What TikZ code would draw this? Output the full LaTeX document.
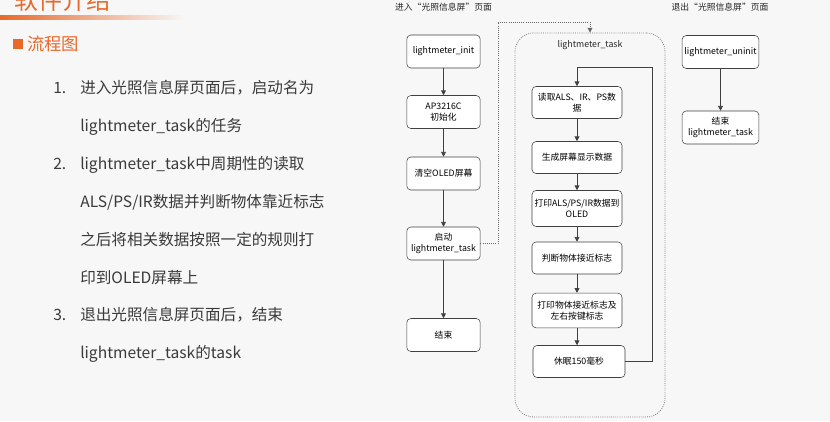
\documentclass[tikz,border=0pt]{standalone}
\usepackage{fontspec}
\setmainfont{Noto Sans CJK SC}
\usepackage{xcolor}
\usetikzlibrary{arrows.meta,positioning}
\definecolor{slideorange}{HTML}{E8692A}
\definecolor{slidetext}{HTML}{3A3A3A}
\definecolor{slidebg}{HTML}{F7F7F7}
\tikzset{
  flowbox/.style   = {rectangle, rounded corners=3pt, draw=black!75, fill=white,
                      align=center, font=\fontsize{6.6}{8}\selectfont, inner sep=1pt,
                      minimum width=55pt, minimum height=24.75pt},
  flowwide/.style  = {flowbox, minimum width=67.5pt, minimum height=24pt},
  taskbox/.style   = {rectangle, rounded corners=14pt, draw=black!55, densely dotted,
                      line width=0.6pt, inner sep=0pt},
  flowflow/.style  = {-{Triangle[length=3.6pt,width=3.6pt]}, draw=black!75, line width=0.6pt},
  flowlink/.style  = {-{Triangle[length=3.6pt,width=3.6pt]}, draw=black!60, densely dotted, line width=0.6pt},
  flowcap/.style   = {font=\fontsize{6.6}{8}\selectfont, text=black!85, inner sep=1pt},
  listline/.style  = {anchor=base west, font=\fontsize{11.7}{14}\selectfont, text=slidetext, inner sep=0pt},
}

\begin{document}
\begin{tikzpicture}[x=0.75pt, y=-0.75pt]
  \fill[slidebg] (0,0) rectangle (830,421);
  \useasboundingbox (0,0) rectangle (830,421);
  \clip (0,0) rectangle (830,421);

  % slide heading
  \node[anchor=base west, text=slideorange, font=\fontsize{18}{20}\selectfont, inner sep=0pt] (title) at (14,9) {软件介绍};
  \shade[left color=slideorange, right color=slidebg] (0,15) rectangle (185,19);
  \node[fill=slideorange, minimum size=7pt, inner sep=0pt] (bullet) at (18,44) {};
  \node[anchor=west, text=slideorange, font=\fontsize{13}{15}\selectfont, inner sep=0pt] (head) at (27,44) {流程图};

  % numbered text
  \node[listline] (n1) at (53,93)  {1.};
  \node[listline] (l1) at (80,93)  {进入光照信息屏页面后，启动名为};
  \node[listline] (l2) at (80,131) {lightmeter\_task的任务};
  \node[listline] (n2) at (53,169) {2.};
  \node[listline] (l3) at (80,169) {lightmeter\_task中周期性的读取};
  \node[listline] (l4) at (80,207) {ALS/PS/IR数据并判断物体靠近标志};
  \node[listline] (l5) at (80,245) {之后将相关数据按照一定的规则打};
  \node[listline] (l6) at (80,283) {印到OLED屏幕上};
  \node[listline] (n3) at (53,320) {3.};
  \node[listline] (l7) at (80,320) {退出光照信息屏页面后，结束};
  \node[listline] (l8) at (80,358) {lightmeter\_task的task};

  % enter page
  \node[flowcap] (enter) at (443.5,7) {进入“光照信息屏”页面};
  \node[flowbox] (init)  at (443.5,51.5) {lightmeter\_init};
  \node[flowbox] (ap)    at (443.5,112)  {AP3216C\\初始化};
  \node[flowbox] (clear) at (443.5,173.5){清空OLED屏幕};
  \node[flowbox] (start) at (443.5,243.5){启动\\lightmeter\_task};
  \node[flowbox] (fin)   at (443.5,335)  {结束};

  \draw[flowflow] (init) -- (ap);
  \draw[flowflow] (ap) -- (clear);
  \draw[flowflow] (clear) -- (start);
  \draw[flowflow] (start) -- (fin);

  % the task itself
  \node[taskbox, minimum width=112.5pt, minimum height=288pt] (task) at (590,225) {};
  \node[flowcap] (tname) at (590,45) {lightmeter\_task};
  \node[flowwide] (read)   at (577,102.5) {读取ALS、IR、PS数\\据};
  \node[flowwide] (gen)    at (577,157.5) {生成屏幕显示数据};
  \node[flowwide, minimum height=27pt] (printd) at (577,208.5) {打印ALS/PS/IR数据到\\OLED};
  \node[flowwide] (judge)  at (577,258)   {判断物体接近标志};
  \node[flowwide, minimum height=26pt] (printf) at (577,310.5) {打印物体接近标志及\\左右按键标志};
  \node[flowwide, minimum width=69pt] (sleep) at (579,361.5) {休眠150毫秒};

  \draw[flowflow] (read) -- (gen);
  \draw[flowflow] (gen) -- (printd);
  \draw[flowflow] (printd) -- (judge);
  \draw[flowflow] (judge) -- (printf);
  \draw[flowflow] (printf) -- (printf |- sleep.north);
  \coordinate (loopc) at (652,67);
  \draw[flowflow] (sleep.east) -| (loopc) -| (read.north);

  \coordinate (linkc) at (498,22);
  \draw[flowlink] (start.east) -| (linkc) -| (task.north);

  % leave page
  \node[flowcap] (leave) at (720,7) {退出“光照信息屏”页面};
  \node[flowbox, minimum width=57.5pt] (uninit) at (720.5,52)  {lightmeter\_uninit};
  \node[flowbox, minimum width=57.5pt] (fin2)   at (720.5,127.5){结束\\lightmeter\_task};
  \draw[flowflow] (uninit) -- (fin2);
\end{tikzpicture}
\end{document}
